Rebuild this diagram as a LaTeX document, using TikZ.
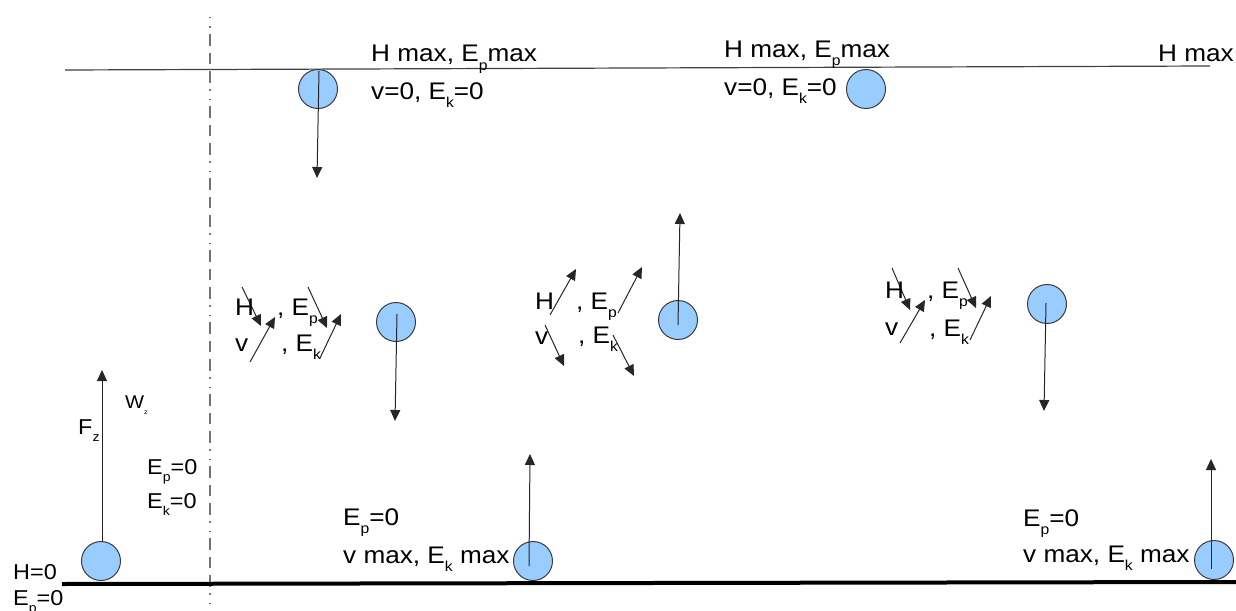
\documentclass[tikz,border=0pt]{standalone}
\usepackage{fontspec}
\setmainfont[FakeStretch=1.09]{Liberation Sans}
\usetikzlibrary{arrows.meta}
\definecolor{ballfill}{HTML}{99CCFF}
\definecolor{ballline}{HTML}{3C3C3C}
\newcommand\sbs[1]{\raisebox{-0.36em}{\scalebox{0.6}{#1}}}
\begin{document}
\begin{tikzpicture}[x=1pt,y=-1pt,
  ball/.style={circle,draw=ballline,fill=ballfill,line width=1pt,minimum size=39pt,inner sep=0pt},
  lbl/.style={anchor=base west,inner sep=0pt,font=\fontsize{24}{28}\selectfont},
  slbl/.style={anchor=base west,inner sep=0pt,font=\fontsize{21.5}{24}\selectfont},
  tlbl/.style={anchor=base west,inner sep=0pt,font=\fontsize{18.5}{20}\selectfont},
  vec/.style={-{Triangle[length=11pt,width=10pt]},line width=1pt,draw=black!85},
  ]
\useasboundingbox (0,0) rectangle (1236,610);
% guide lines
\coordinate (dd1) at (210,15);
\coordinate (dd2) at (210,610);
\draw[black!55,line width=1.3pt,dash pattern=on 12pt off 7pt on 11pt off 7pt on 12pt off 6pt on 1.5pt off 8pt on 1.5pt off 6pt,dash phase=53pt] (dd1) -- (dd2);
\coordinate (tl1) at (65,70);
\coordinate (tl2) at (1210,66);
\draw[black!75,line width=1.2pt] (tl1) -- (tl2);
\coordinate (gl1) at (62,584);
\coordinate (gl2) at (1236,582);
\draw[line width=4pt] (gl1) -- (gl2);
% balls
\node[ball] (b0) at (101,561) {};
\node[ball] (b1) at (318,89) {};
\node[ball] (b2) at (866,89) {};
\node[ball] (b3) at (396,322) {};
\node[ball] (b4) at (678,320) {};
\node[ball] (b5) at (1047,304) {};
\node[ball] (b6) at (533,561) {};
\node[ball] (b7) at (1214,560) {};
% big arrows
\coordinate (s0) at (102,542); \coordinate (e0) at (102,370);
\coordinate (s1) at (319,71);  \coordinate (e1) at (317,178);
\coordinate (s3) at (397,314); \coordinate (e3) at (395,421);
\coordinate (s4) at (678,325); \coordinate (e4) at (680,213);
\coordinate (s5) at (1046,303); \coordinate (e5) at (1044,411);
\coordinate (s6) at (529,566); \coordinate (e6) at (530,454);
\coordinate (s7) at (1211,569); \coordinate (e7) at (1211,459);
\foreach \i in {0,1,3,4,5,6,7} \draw[vec] (s\i) -- (e\i);
% small arrows group 1
\coordinate (p1) at (242,287); \coordinate (q1) at (261,326);
\coordinate (p2) at (250,362); \coordinate (q2) at (275,317);
\coordinate (p3) at (308,287); \coordinate (q3) at (327,328);
\coordinate (p4) at (320,358); \coordinate (q4) at (341,314);
% group 2
\coordinate (p5) at (550,315); \coordinate (q5) at (576,269);
\coordinate (p6) at (618,313); \coordinate (q6) at (642,267);
\coordinate (p7) at (545,325); \coordinate (q7) at (564,366);
\coordinate (p8) at (613,335); \coordinate (q8) at (634,376);
% group 3
\coordinate (p9) at (892,268); \coordinate (q9) at (910,310);
\coordinate (p10) at (900,343); \coordinate (q10) at (925,300);
\coordinate (p11) at (958,268); \coordinate (q11) at (976,308);
\coordinate (p12) at (970,340); \coordinate (q12) at (991,296);
\foreach \i in {1,...,12} \draw[vec] (p\i) -- (q\i);
% top texts
\node[lbl] (t1) at (371,62) {H max, E\sbs{p}max};
\node[lbl] (t2) at (371,99) {v=0, E\sbs{k}=0};
\node[lbl] (t3) at (724,57) {H max, E\sbs{p}max};
\node[lbl] (t4) at (724,95) {v=0, E\sbs{k}=0};
\node[lbl] (t5) at (1158,61) {H max};
% group texts
\node[lbl] (g1a) at (235,315) {H};
\node[lbl] (g1b) at (277,315) {, E\sbs{p}};
\node[lbl] (g1c) at (235,351) {v};
\node[lbl] (g1d) at (281,351) {, E\sbs{k}};
\node[lbl] (g2a) at (535,309) {H};
\node[lbl] (g2b) at (576,309) {, E\sbs{p}};
\node[lbl] (g2c) at (535,344) {v};
\node[lbl] (g2d) at (578,343) {, E\sbs{k}};
\node[lbl] (g3a) at (885,298) {H};
\node[lbl] (g3b) at (927,298) {, E\sbs{p}};
\node[lbl] (g3c) at (885,335) {v};
\node[lbl] (g3d) at (929,336) {, E\sbs{k}};
% left texts
\node[slbl] (f1) at (78,434) {F\sbs{z}};
\node[tlbl] (w1) at (125,408) {W\sbs{\scalebox{0.6}{z}}};
\node[slbl] (l1) at (147,474) {E\sbs{p}=0};
\node[slbl] (l2) at (147,508) {E\sbs{k}=0};
\node[slbl] (l3) at (13,579) {H=0};
\node[slbl] (l4) at (13,605) {E\sbs{p}=0};
% bottom texts
\node[lbl] (m1) at (343,525) {E\sbs{p}=0};
\node[lbl] (m2) at (343,563) {v max, E\sbs{k} max};
\node[lbl] (r1) at (1023,526) {E\sbs{p}=0};
\node[lbl] (r2) at (1023,562) {v max, E\sbs{k} max};
\end{tikzpicture}
\end{document}
